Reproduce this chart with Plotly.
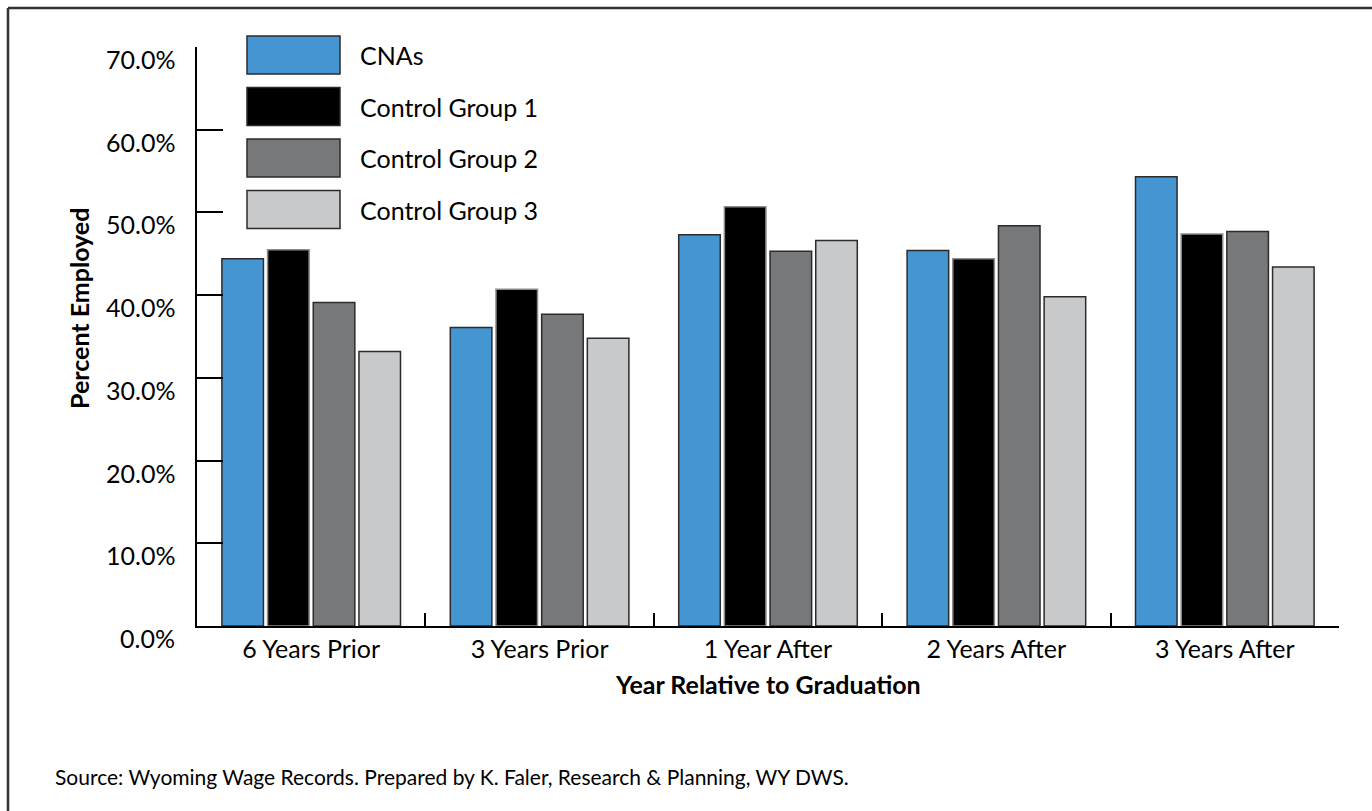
import plotly.graph_objects as go

# ---------------- data ----------------
categories = ["6 Years Prior", "3 Years Prior", "1 Year After", "2 Years After", "3 Years After"]
series_names = ["CNAs", "Control Group 1", "Control Group 2", "Control Group 3"]
cnas = [44.4, 36.1, 47.3, 45.4, 54.3]
control_1 = [45.5, 40.7, 50.7, 44.4, 47.4]
control_2 = [39.1, 37.7, 45.3, 48.4, 47.7]
control_3 = [33.2, 34.8, 46.6, 39.8, 43.4]
series_values = [cnas, control_1, control_2, control_3]
y_tick_values = [0, 10, 20, 30, 40, 50, 60, 70]
y_tick_labels = ["0.0%", "10.0%", "20.0%", "30.0%", "40.0%", "50.0%", "60.0%", "70.0%"]
x_title = "Year Relative to Graduation"
y_title = "Percent Employed"
source_text = "Source: Wyoming Wage Records. Prepared by K. Faler, Research & Planning, WY DWS."

# ---------------- styles ----------------
colors = ["#4495D1", "#000000", "#77787A", "#C8C9CB"]
outline = ["#2b2b2b", "#8c8c8c", "#2b2b2b", "#2b2b2b"]
FONT = "Lato"
W, H = 1372, 811
L, R, T, B = 197, 1339, 47, 626


def px(x):
    return (x - L) / (R - L)


def py(y):
    return (B - y) / (B - T)


fig = go.Figure()
for name, vals, col, oc in zip(series_names, series_values, colors, outline):
    fig.add_trace(go.Bar(
        x=categories, y=vals, name=name,
        marker=dict(color=col, line=dict(color=oc, width=1.5)),
        showlegend=False,
    ))

shapes = []
annotations = []

# outer frame (left and top edges visible)
shapes.append(dict(type="line", xref="paper", yref="paper",
                   x0=px(8), y0=py(8), x1=px(1390), y1=py(8),
                   line=dict(color="#333333", width=2.5)))
shapes.append(dict(type="line", xref="paper", yref="paper",
                   x0=px(8), y0=py(8), x1=px(8), y1=py(830),
                   line=dict(color="#333333", width=2.5)))

# custom legend
box_x0, box_x1 = 247, 340
box_top0, box_h, box_pitch = 36, 38, 51.5
for i, (name, col) in enumerate(zip(series_names, colors)):
    top = box_top0 + i * box_pitch
    shapes.append(dict(type="rect", xref="paper", yref="paper",
                       x0=px(box_x0), x1=px(box_x1), y0=py(top + box_h), y1=py(top),
                       fillcolor=col, line=dict(color="#2b2b2b", width=1.5)))
    annotations.append(dict(xref="paper", yref="paper", x=px(358), y=py(top + box_h / 2),
                            xanchor="left", yanchor="middle", showarrow=False,
                            text=name, font=dict(family=FONT, size=25, color="#000")))

# y tick labels (sitting slightly below their ticks, as in the original)
for v, lab in zip(y_tick_values, y_tick_labels):
    annotations.append(dict(xref="paper", yref="y", x=0, y=v, xanchor="right", yanchor="middle",
                            xshift=-20, yshift=-12, showarrow=False, text=lab,
                            font=dict(family=FONT, size=25, color="#000")))

# titles and source
annotations.append(dict(xref="paper", yref="paper", x=px(62), y=py(309), textangle=-90,
                        showarrow=False, text="<b>%s</b>" % y_title,
                        font=dict(family=FONT, size=25, color="#000")))
annotations.append(dict(xref="paper", yref="paper", x=0.5, y=py(684), yanchor="middle",
                        showarrow=False, text="<b>%s</b>" % x_title,
                        font=dict(family=FONT, size=25, color="#000")))
annotations.append(dict(xref="paper", yref="paper", x=px(53), y=py(777), xanchor="left",
                        yanchor="middle", showarrow=False, text=source_text,
                        font=dict(family=FONT, size=21, color="#000")))

fig.update_layout(
    width=W, height=H,
    margin=dict(l=L, r=W - R, t=T, b=H - B),
    paper_bgcolor="white", plot_bgcolor="white",
    barmode="group", bargap=0.2, bargroupgap=0.09,
    shapes=shapes, annotations=annotations,
    font=dict(family=FONT, color="#000"),
)
fig.update_xaxes(
    range=[-0.5, 4.5], showline=True, linecolor="#000", linewidth=2,
    ticks="inside", tickson="boundaries", ticklen=13, tickwidth=2, tickcolor="#000",
    tickfont=dict(family=FONT, size=25, color="#000"), showgrid=False, zeroline=False,
)
fig.update_yaxes(
    range=[0, 70], tickvals=y_tick_values, showticklabels=False,
    showline=True, linecolor="#000", linewidth=2,
    ticks="inside", ticklen=26, tickwidth=2, tickcolor="#000",
    showgrid=False, zeroline=False,
)

fig.write_html("out.html")
